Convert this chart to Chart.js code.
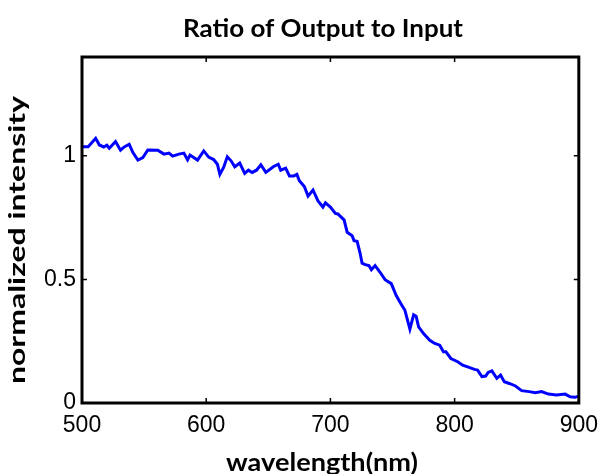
<!DOCTYPE html>
<html>
<head>
<meta charset="utf-8">
<script src="https://cdn.jsdelivr.net/npm/chart.js@4/dist/chart.umd.min.js"></script>
<style>
  html, body { margin: 0; padding: 0; background: #ffffff; }
  #wrap { width: 607px; height: 474px; }
</style>
</head>
<body>
<div id="wrap"><canvas id="c" width="607" height="474"></canvas></div>
<script>
const chartTitle = "Ratio of Output to Input";
const xTitle = "wavelength(nm)";
const yTitle = "normalized intensity";
const xTicks = [500, 600, 700, 800, 900];
const yTicks = [0, 0.5, 1];

const wavelength = [
  500, 505, 511, 514, 517.5, 520, 522, 527, 531, 534, 538, 541, 545, 549, 553, 561, 566, 570, 573, 578,
  582, 585, 587, 593, 598, 602, 606, 609, 611, 614, 617, 620, 623, 627, 631, 634, 637, 640.5, 644, 648,
  654, 658, 660, 664, 667, 670.5, 673, 675, 679, 682, 686, 690, 694, 696, 700, 704, 706, 711, 713.5, 717.5,
  719, 721.5, 724, 725.5, 728, 731, 733, 736, 740, 744, 749, 753, 757, 760, 764, 767, 769, 771, 775, 780,
  784, 788, 791, 793, 797, 802.5, 806.5, 810.5, 816, 818.5, 822, 825, 827, 830, 834, 837, 840, 844, 849, 854,
  860, 865, 870, 875.5, 882, 889, 893, 897, 900
];
const intensity = [
  1.037, 1.037, 1.071, 1.044, 1.036, 1.043, 1.031, 1.058, 1.023, 1.036, 1.047, 1.013, 0.983, 0.993, 1.024, 1.023, 1.007, 1.011, 0.999, 1.007,
  1.011, 0.984, 1.003, 0.983, 1.020, 0.995, 0.985, 0.966, 0.925, 0.953, 0.996, 0.980, 0.956, 0.971, 0.929, 0.942, 0.933, 0.942, 0.964, 0.933,
  0.956, 0.966, 0.942, 0.950, 0.919, 0.919, 0.925, 0.899, 0.876, 0.837, 0.862, 0.818, 0.793, 0.810, 0.793, 0.767, 0.765, 0.741, 0.691, 0.677,
  0.657, 0.654, 0.604, 0.566, 0.560, 0.556, 0.539, 0.556, 0.529, 0.499, 0.483, 0.435, 0.400, 0.375, 0.299, 0.357, 0.351, 0.308, 0.281, 0.254,
  0.241, 0.234, 0.207, 0.207, 0.180, 0.167, 0.153, 0.146, 0.136, 0.133, 0.107, 0.109, 0.124, 0.130, 0.100, 0.113, 0.086, 0.079, 0.069, 0.050,
  0.046, 0.042, 0.046, 0.036, 0.032, 0.036, 0.025, 0.023, 0.028
];

const points = wavelength.map((w, i) => ({ x: w, y: intensity[i] }));

function drawFitted(ctx, text, cx, cy, font, targetLen, rotate) {
  ctx.save();
  ctx.font = font;
  const w = ctx.measureText(text).width;
  const s = targetLen / w;
  ctx.translate(cx, cy);
  if (rotate) ctx.rotate(-Math.PI / 2);
  ctx.scale(s, 1);
  ctx.textAlign = 'center';
  ctx.textBaseline = 'middle';
  ctx.fillStyle = '#000';
  ctx.fillText(text, 0, 0);
  ctx.restore();
}

const frame = {
  id: 'frame',
  afterDraw(chart) {
    const { ctx, chartArea: a, scales } = chart;
    ctx.save();
    ctx.strokeStyle = '#000';
    ctx.lineWidth = 3;
    ctx.strokeRect(a.left, a.top, a.right - a.left, a.bottom - a.top);
    ctx.lineWidth = 1.5;
    const tl = 5;
    ctx.beginPath();
    xTicks.forEach(v => {
      const px = scales.x.getPixelForValue(v);
      ctx.moveTo(px, a.bottom); ctx.lineTo(px, a.bottom - tl);
      ctx.moveTo(px, a.top); ctx.lineTo(px, a.top + tl);
    });
    yTicks.forEach(v => {
      const py = scales.y.getPixelForValue(v);
      ctx.moveTo(a.left, py); ctx.lineTo(a.left + tl, py);
      ctx.moveTo(a.right, py); ctx.lineTo(a.right - tl, py);
    });
    ctx.stroke();
    ctx.restore();
    // titles
    drawFitted(ctx, chartTitle, 323, 29, 'bold 25px Lato', 280, false);
    drawFitted(ctx, xTitle, 322, 463, 'bold 24px Lato', 192, false);
    drawFitted(ctx, yTitle, 18, 240, 'bold 23px Lato', 288, true);
  }
};

new Chart(document.getElementById('c'), {
  type: 'line',
  data: {
    datasets: [{
      data: points,
      borderColor: '#0000ff',
      borderWidth: 3,
      pointRadius: 0,
      tension: 0,
      fill: false
    }]
  },
  options: {
    responsive: false,
    animation: false,
    layout: { padding: { top: 57, right: 22, left: 0, bottom: 0 } },
    plugins: { legend: { display: false }, tooltip: { enabled: false }, title: { display: false } },
    scales: {
      x: {
        type: 'linear',
        min: 500, max: 900,
        afterBuildTicks(s) { s.ticks = xTicks.map(v => ({ value: v })); },
        afterFit(s) { s.height = 71; },
        grid: { display: false, drawTicks: false },
        border: { display: false },
        ticks: { color: '#000', padding: 9, font: { family: 'Liberation Sans', size: 23 }, maxRotation: 0,
                 callback: v => String(v) },
        title: { display: false }
      },
      y: {
        min: 0, max: 1.4,
        afterBuildTicks(s) { s.ticks = yTicks.map(v => ({ value: v })); },
        afterFit(s) { s.width = 82; },
        grid: { display: false, drawTicks: false },
        border: { display: false },
        ticks: { color: '#000', padding: 6, font: { family: 'Liberation Sans', size: 23 },
                 callback: v => String(v) },
        title: { display: false }
      }
    }
  },
  plugins: [frame]
});
</script>
</body>
</html>
